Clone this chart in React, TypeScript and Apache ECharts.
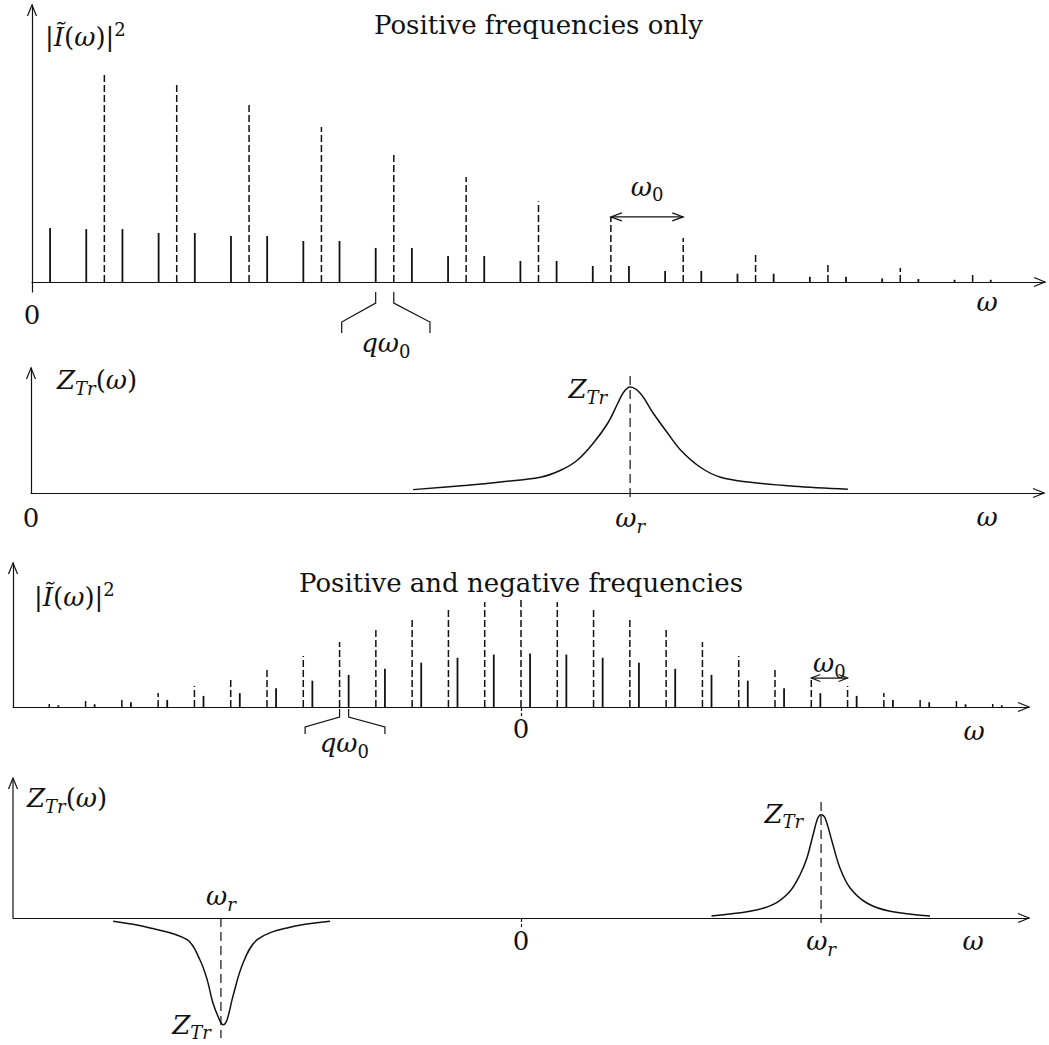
import React, { useEffect, useRef } from 'react';
import * as echarts from 'echarts';

const INK = '#111';
const SERIF = 'DejaVu Serif';
const FS = 26;
const SFS = 18;

// ---------- Panel 1: positive frequencies only (x in units of ω0, heights in % of axis height)
const p1XMax = 14;
const p1DashedX = [1, 2, 3, 4, 5, 6, 7, 8, 9, 10, 11, 12, 13];
const p1DashedH = [75.8, 71.1, 64.6, 56.0, 46.6, 37.9, 29.2, 23.5, 15.9, 10.8, 7.2, 5.1, 2.9];
const p1SolidX = [0.25, 0.75, 1.25, 1.75, 2.25, 2.75, 3.25, 3.75, 4.25, 4.75, 5.25, 5.75, 6.25, 6.75, 7.25, 7.75, 8.25, 8.75, 9.25, 9.75, 10.25, 10.75, 11.25, 11.75, 12.25, 12.75, 13.25];
const p1SolidH = [19.5, 19.1, 19.1, 17.7, 17.7, 16.6, 16.6, 14.8, 14.8, 12.3, 12.3, 9.4, 9.4, 7.6, 7.6, 5.8, 5.8, 4.0, 4.0, 3.0, 3.0, 1.9, 1.9, 1.3, 1.1, 0.8, 0.8];

// ---------- Panel 2: Z_Tr(ω), positive frequencies
const p2Wr = 8.28;
const p2CurveX = [5.28, 6.03, 6.49, 7.04, 7.32, 7.55, 7.77, 7.97, 8.11, 8.19, 8.28, 8.42, 8.6, 8.8, 8.98, 9.25, 9.53, 9.94, 10.54, 11.29];
const p2CurveY = [2.7, 6.2, 8.8, 12.6, 18.2, 26.2, 39.8, 55.8, 71.8, 80.6, 84.8, 79.8, 63.8, 47.8, 34.2, 20.6, 12.6, 8.6, 5.4, 3.0];
const p2Marker = [-3.2, 96];

// ---------- Panel 3: positive and negative frequencies
const p3DashedX = [-13, -12, -11, -10, -9, -8, -7, -6, -5, -4, -3, -2, -1, 0, 1, 2, 3, 4, 5, 6, 7, 8, 9, 10, 11, 12, 13];
const p3DashedH = [2.1, 4.2, 6.9, 9.7, 14.6, 20.1, 27.1, 35.4, 45.1, 54.2, 61.8, 68.8, 72.9, 74.3, 72.9, 68.8, 61.8, 54.2, 45.1, 35.4, 27.1, 20.1, 14.6, 9.7, 6.9, 4.2, 2.1];
const p3SolidX = [-12.75, -11.75, -10.75, -9.75, -8.75, -7.75, -6.75, -5.75, -4.75, -3.75, -2.75, -1.75, -0.75, 0.25, 1.25, 2.25, 3.25, 4.25, 5.25, 6.25, 7.25, 8.25, 9.25, 10.25, 11.25, 12.25, 13.25];
const p3SolidH = [1.2, 1.9, 3.3, 4.9, 7.7, 9.6, 13.1, 18.3, 22.3, 26.5, 30.8, 34.2, 36.4, 37.1, 36.4, 34.2, 30.8, 26.5, 22.3, 18.3, 13.1, 9.6, 7.7, 4.9, 3.3, 1.9, 1.2];

// ---------- Panel 4: Z_Tr(ω), both signs
const p4Wr = 8.27;
const p4PeakX = [5.25, 6.31, 6.94, 7.41, 7.69, 7.88, 8.05, 8.18, 8.27, 8.38, 8.57, 8.79, 9.07, 9.53, 10.17, 11.27];
const p4PeakY = [1.5, 4.8, 9.5, 19.0, 30.9, 42.9, 59.5, 71.4, 73.8, 71.4, 54.8, 35.7, 21.4, 10.7, 4.8, 1.5];
const p4DipX = [-11.24, -10.22, -9.2, -8.85, -8.65, -8.49, -8.29, -8.21, -8.1, -7.94, -7.66, -7.27, -6.45, -5.26];
const p4DipY = [-2.4, -7.1, -15.5, -29.8, -44.0, -60.7, -73.8, -76.2, -72.6, -56.0, -32.1, -15.5, -7.1, -2.4];
const p4PeakMarker = [-3.6, 84.3];
const p4DipMarker = [0, -85.7];

// ---------- label texts
const I2 = '{n||}{i|Ĩ}{n|(}{i|ω}{n|)|}{sp|2}';
const ZTRW = '{i|Z}{sb|Tr}{n|(}{i|ω}{n|)}';
const ZTR = '{i|Z}{sb|Tr}';
const WR = '{i|ω}{sb|r}';
const W0 = '{i|ω}{s0|0}';
const QW0 = '{i|qω}{s0|0}';
const TITLE1 = 'Positive frequencies only';
const TITLE2 = 'Positive and negative frequencies';

// ECharts-component rich styles
const RICH_E = {
  n: { fontFamily: SERIF, fontSize: FS, lineHeight: 34, color: INK },
  i: { fontFamily: SERIF, fontSize: FS, fontStyle: 'italic', lineHeight: 34, color: INK },
  sb: { fontFamily: SERIF, fontSize: SFS, fontStyle: 'italic', lineHeight: 21, verticalAlign: 'bottom', color: INK },
  s0: { fontFamily: SERIF, fontSize: SFS, lineHeight: 21, verticalAlign: 'bottom', color: INK },
  sp: { fontFamily: SERIF, fontSize: SFS, lineHeight: 21, verticalAlign: 'top', color: INK },
};
// zrender rich styles (font shorthand)
const F = `"${SERIF}", serif`;
const RICH_Z = {
  n: { font: `${FS}px ${F}`, lineHeight: 34, fill: INK },
  i: { font: `italic ${FS}px ${F}`, lineHeight: 34, fill: INK },
  sb: { font: `italic ${SFS}px ${F}`, lineHeight: 21, verticalAlign: 'bottom', fill: INK },
  s0: { font: `${SFS}px ${F}`, lineHeight: 21, verticalAlign: 'bottom', fill: INK },
  sp: { font: `${SFS}px ${F}`, lineHeight: 21, verticalAlign: 'top', fill: INK },
};

type Pt = number[];

const pl = (points: Pt[], width = 1.2, dash: number[] | null = null) => ({
  type: 'polyline',
  silent: true,
  shape: { points },
  style: { stroke: INK, lineWidth: width, fill: 'none', lineDash: dash },
});

const chevron = (tip: Pt, dir: Pt, len = 11, half = 4.5) => {
  const [dx, dy] = dir;
  const nx = -dy;
  const ny = dx;
  return pl([
    [tip[0] - dx * len + nx * half, tip[1] - dy * len + ny * half],
    [tip[0], tip[1]],
    [tip[0] - dx * len - nx * half, tip[1] - dy * len - ny * half],
  ]);
};

const txt = (p: Pt, text: string, align = 'center') => ({
  type: 'text',
  silent: true,
  x: p[0],
  y: p[1],
  style: { text, rich: RICH_Z, align, verticalAlign: 'middle', fill: INK, font: `${FS}px ${F}` },
});

const plainTxt = (p: Pt, text: string) => ({
  type: 'text',
  silent: true,
  x: p[0],
  y: p[1],
  style: { text, align: 'center', verticalAlign: 'middle', fill: INK, font: `${FS}px ${F}` },
});

const off = (p: Pt, dx: number, dy: number): Pt => [p[0] + dx, p[1] + dy];

const stems = (idx: number, xs: number[], hs: number[], dashed: boolean, width: number) => ({
  type: 'custom',
  xAxisIndex: idx,
  yAxisIndex: idx,
  clip: false,
  silent: true,
  data: xs.map((x, i) => [x, hs[i]]),
  encode: { x: 0, y: 1 },
  renderItem: (_p: any, api: any) => {
    const a = api.coord([api.value(0), 0]);
    const b = api.coord([api.value(0), api.value(1)]);
    return {
      type: 'line',
      shape: { x1: a[0], y1: a[1], x2: b[0], y2: b[1] },
      style: { stroke: INK, lineWidth: width, fill: 'none', lineDash: dashed ? [7, 3] : null },
    };
  },
});

const deco = (idx: number, build: (c: (x: number, y: number) => Pt) => any[]) => ({
  type: 'custom',
  xAxisIndex: idx,
  yAxisIndex: idx,
  clip: false,
  silent: true,
  data: [[0, 0]],
  encode: { x: 0, y: 1 },
  renderItem: (_p: any, api: any) => {
    const c = (x: number, y: number): Pt => api.coord([x, y]);
    return { type: 'group', children: build(c) };
  },
});

const curve = (idx: number, xs: number[], ys: number[]) => ({
  type: 'line',
  xAxisIndex: idx,
  yAxisIndex: idx,
  data: xs.map((x, i) => [x, ys[i]]),
  showSymbol: false,
  smooth: 0.35,
  silent: true,
  lineStyle: { color: INK, width: 1.5 },
  clip: false,
});

const xAxisBase = (idx: number, min: number, max: number, labels: number[] | null, margin: number, nameGap: number, namePad: number, tick: boolean) => ({
  type: 'value',
  gridIndex: idx,
  min,
  max,
  splitLine: { show: false },
  axisLine: { show: true, onZero: true, symbol: 'none', lineStyle: { color: INK, width: 1.2 } },
  axisTick: tick
    ? { show: true, customValues: [0], length: 9, lineStyle: { color: INK, width: 1.2, type: [4, 2] } }
    : { show: false },
  axisLabel: labels
    ? {
        show: true,
        customValues: labels,
        margin,
        fontFamily: SERIF,
        fontSize: FS,
        color: INK,
        lineHeight: 34,
        rich: RICH_E,
        formatter: (v: number) => (v === 0 ? '0' : WR),
      }
    : { show: false },
  name: '{i|ω}',
  nameLocation: 'end',
  nameGap,
  nameMoveOverlap: false,
  nameTextStyle: { rich: RICH_E, fontFamily: SERIF, align: 'center', verticalAlign: 'middle', padding: [namePad, 0, 0, 0] },
});

const yAxisBase = (idx: number, min: number, max: number, name: string, nameGap: number, padLeft: number, showLine: boolean) => ({
  type: 'value',
  gridIndex: idx,
  min,
  max,
  splitLine: { show: false },
  axisTick: { show: false },
  axisLabel: { show: false },
  axisLine: { show: showLine, onZero: false, symbol: 'none', lineStyle: { color: INK, width: 1.2 } },
  name,
  nameLocation: 'end',
  nameGap,
  nameMoveOverlap: false,
  nameTextStyle: { rich: RICH_E, fontFamily: SERIF, align: 'left', verticalAlign: 'middle', padding: [0, 0, 0, padLeft] },
});

const p1k8 = p1DashedX.indexOf(8);
const p3k8 = p3DashedX.indexOf(8);

const option = {
  animation: false,
  backgroundColor: '#fff',
  textStyle: { fontFamily: SERIF, color: INK },
  grid: [
    { left: 32, top: 5, width: 1013, height: 287, outerBoundsMode: 'none', containLabel: false },
    { left: 31, top: 368, width: 1013, height: 125, outerBoundsMode: 'none', containLabel: false },
    { left: 13, top: 563, width: 1016, height: 144, outerBoundsMode: 'none', containLabel: false },
    { left: 13, top: 778, width: 1016, height: 266, outerBoundsMode: 'none', containLabel: false },
  ],
  xAxis: [
    xAxisBase(0, 0, p1XMax, [0], 6, -58, 40, false),
    xAxisBase(1, 0, p1XMax, [0, p2Wr], 8, -57, 48, false),
    xAxisBase(2, -14, 14, [0], 5, -55, 48, true),
    xAxisBase(3, -14, 14, null, 6, -56, 46, true),
  ],
  yAxis: [
    yAxisBase(0, -3.6, 100, I2, -32, 13, true),
    yAxisBase(1, 0, 100, ZTRW, -12, 26, true),
    yAxisBase(2, 0, 100, I2, -34, 21, true),
    yAxisBase(3, -90, 100, ZTRW, -20, 14, false),
  ],
  series: [
    // panel 1
    stems(0, p1DashedX, p1DashedH, true, 1.5),
    stems(0, p1SolidX, p1SolidH, false, 1.8),
    deco(0, (c) => {
      const h = p1DashedH[p1k8];
      const a = c(8, h);
      const b = c(9, h);
      const b1 = c(4.75, 0);
      const b2 = c(5, 0);
      const o1 = c(4.28, 0);
      const o2 = c(5.5, 0);
      const y0 = b1[1];
      return [
        chevron(c(p1XMax, 0), [1, 0]),
        chevron(c(0, 100), [0, -1]),
        plainTxt(off(c(7, 100), 0, 20), TITLE1),
        pl([a, b], 1.3),
        chevron(b, [1, 0], 11, 4),
        chevron(a, [-1, 0], 11, 4),
        txt(off(c(8.5, h), 0, -30), W0),
        pl([[b1[0], y0 + 10], [b1[0], y0 + 21], [o1[0], y0 + 40], [o1[0], y0 + 51]], 1.2),
        pl([[b2[0], y0 + 10], [b2[0], y0 + 21], [o2[0], y0 + 40], [o2[0], y0 + 51]], 1.2),
        txt(off(c(4.89, 0), 0, 61), QW0),
      ];
    }),
    // panel 2
    curve(1, p2CurveX, p2CurveY),
    deco(1, (c) => [
      chevron(c(p1XMax, 0), [1, 0]),
      chevron(c(0, 100), [0, -1]),
      pl([c(p2Wr, p2Marker[0]), c(p2Wr, p2Marker[1])], 1.2, [9, 5]),
      txt(off(c(p2Wr, Math.max(...p2CurveY)), -23, 2), ZTR, 'right'),
    ]),
    // panel 3
    stems(2, p3DashedX, p3DashedH, true, 1.5),
    stems(2, p3SolidX, p3SolidH, false, 1.8),
    deco(2, (c) => {
      const h = p3DashedH[p3k8];
      const a = c(8, h);
      const b = c(9, h);
      const b1 = c(-5, 0);
      const b2 = c(-4.75, 0);
      const o1 = c(-5.95, 0);
      const o2 = c(-3.75, 0);
      const y0 = b1[1];
      return [
        chevron(c(14, 0), [1, 0]),
        chevron(c(-14, 100), [0, -1]),
        plainTxt(off(c(0, 100), 0, 20), TITLE2),
        pl([a, b], 1.3),
        chevron(b, [1, 0], 9, 3.5),
        chevron(a, [-1, 0], 9, 3.5),
        txt(off(c(8.5, h), 0, -15), W0),
        pl([[b1[0], y0 + 2], [b1[0], y0 + 10], [o1[0], y0 + 20], [o1[0], y0 + 27]], 1.2),
        pl([[b2[0], y0 + 2], [b2[0], y0 + 10], [o2[0], y0 + 20], [o2[0], y0 + 27]], 1.2),
        txt(off(c(-4.87, 0), 0, 36), QW0),
      ];
    }),
    // panel 4
    curve(3, p4PeakX, p4PeakY),
    curve(3, p4DipX, p4DipY),
    deco(3, (c) => [
      chevron(c(14, 0), [1, 0]),
      pl([c(-14, 0), c(-14, 100)], 1.2),
      chevron(c(-14, 100), [0, -1]),
      pl([c(p4Wr, p4PeakMarker[0]), c(p4Wr, p4PeakMarker[1])], 1.2, [9, 5]),
      pl([c(-p4Wr, p4DipMarker[0]), c(-p4Wr, p4DipMarker[1])], 1.2, [9, 5]),
      txt(off(c(p4Wr, Math.max(...p4PeakY)), -18, -1), ZTR, 'right'),
      txt(off(c(-p4Wr, Math.min(...p4DipY)), -10, 0), ZTR, 'right'),
      txt(off(c(-p4Wr, 0), 0, -22), WR),
      plainTxt(off(c(0, 0), 0, 23), '0'),
      txt(off(c(p4Wr, 0), 0, 23), WR),
    ]),
  ],
};

export default function App() {
  const ref = useRef<HTMLDivElement>(null);
  useEffect(() => {
    document.body.style.margin = '0';
    const chart = echarts.init(ref.current as HTMLDivElement, null, { renderer: 'svg', width: 1049, height: 1045 });
    chart.setOption(option as any);
    return () => chart.dispose();
  }, []);
  return (
    <div
      ref={ref}
      style={{ width: 1049, height: 1045, position: 'absolute', left: 0, top: 0, background: '#fff' }}
    />
  );
}
